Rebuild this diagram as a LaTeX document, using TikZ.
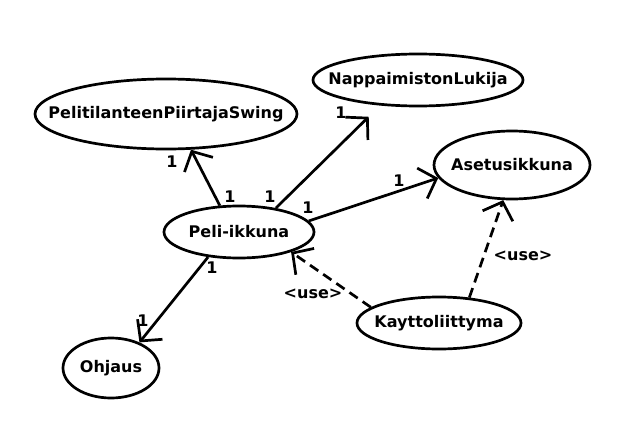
\documentclass[tikz,border=0pt]{standalone}
\usepackage{fontspec}
\setmainfont{DejaVu Sans}
\usetikzlibrary{shapes.geometric,arrows.meta}

\begin{document}
\begin{tikzpicture}[x=1pt, y=-1pt, line width=2.7pt,
		every node/.style={font=\fontsize{16}{19}\selectfont\bfseries},
		klass/.style={ellipse, draw, inner sep=0pt},
		assoc/.style={-{Straight Barb[length=15pt, width=32pt]}},
		uses/.style={assoc, dash pattern=on 10pt off 6pt}]
		% \draw[help lines, step=50] (0,0) grid (621,436);
		\useasboundingbox (0,0) rectangle (621,436);

		\node[klass, minimum width=262pt, minimum height=70pt, label=center:{PelitilanteenPiirtajaSwing}] (swing) at (166,114) {};
		\node[klass, minimum width=210pt, minimum height=52pt, label=center:{NappaimistonLukija}] (napp) at (418,80) {};
		\node[klass, minimum width=156pt, minimum height=68pt, label=center:{Asetusikkuna}] (asetus) at (512,165) {};
		\node[klass, minimum width=150pt, minimum height=52pt, label=center:{Peli-ikkuna}] (peli) at (239,232) {};
		\node[klass, minimum width=164pt, minimum height=52pt, label=center:{Kayttoliittyma}] (kaytto) at (439,323) {};
		\node[klass, minimum width=96pt, minimum height=60pt, label=center:{Ohjaus}] (ohjaus) at (111,368) {};

		\draw[assoc] (peli.126) -- (swing.305);
		\draw[assoc, shorten >=16pt] (peli.33) -- (napp.214);
		\draw[assoc] (peli.9) -- (asetus.190);
		\draw[assoc] (peli.219) -- (ohjaus.42);
		\draw[uses] (kaytto.167) -- (peli.339);
		\draw[uses] (kaytto.40) -- (asetus.256);

		\node (s1) at (172,162) {1};
		\node (p1) at (230,197) {1};
		\node (p2) at (270,197) {1};
		\node (n1) at (341,113) {1};
		\node (p3) at (308,208) {1};
		\node (a1) at (399,181) {1};
		\node (p4) at (212,268) {1};
		\node (o1) at (143,321) {1};
		\node (u1) at (313,294) {<use>};
		\node (u2) at (523,256) {<use>};
	\end{tikzpicture}
\end{document}
